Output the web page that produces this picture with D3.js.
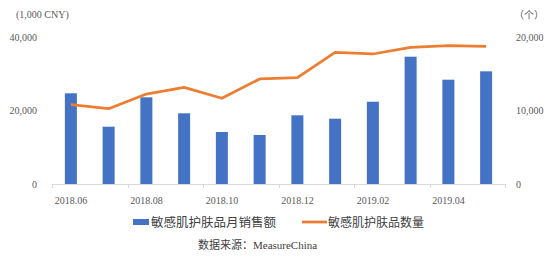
<!DOCTYPE html>
<html lang="zh">
<head>
<meta charset="UTF-8" />
<script src="https://d3js.org/d3.v7.min.js"></script>
<style>
  body { margin: 0; background: #fff; }
  svg { display: block; }
  text { font-family: "Liberation Serif", "Noto Sans CJK SC", serif; fill: #595959; }
  .cjk { font-family: "Noto Sans CJK SC", sans-serif; }
  .legend { fill: #404040; }
</style>
</head>
<body>
<svg id="chart" width="550" height="261"></svg>
<script>
const months = ["2018.06","2018.07","2018.08","2018.09","2018.10","2018.11","2018.12","2019.01","2019.02","2019.03","2019.04","2019.05"];
const sales = [24680, 15590, 23590, 19240, 14150, 13330, 18690, 17770, 22390, 34640, 28380, 30660];
const counts = [10790, 10250, 12240, 13150, 11660, 14290, 14460, 17920, 17690, 18600, 18820, 18730];
const leftTicks = [0, 20000, 40000];
const rightTicks = [0, 10000, 20000];

const svg = d3.select("#chart");
const margin = { left: 52, right: 45, top: 37, bottom: 77 };
const W = 550, H = 261;

const x = d3.scaleBand().domain(months).range([margin.left, W - margin.right]).paddingInner(0).paddingOuter(0);
const yL = d3.scaleLinear().domain([0, 40000]).range([H - margin.bottom, margin.top]);
const yR = d3.scaleLinear().domain([0, 20000]).range([H - margin.bottom, margin.top]);
const fmt = d3.format(",");

// bars
const bw = 12;
svg.append("g").selectAll("rect")
  .data(months)
  .join("rect")
  .attr("x", (d) => x(d) + x.bandwidth() / 2 - bw / 2)
  .attr("y", (d, i) => yL(sales[i]))
  .attr("width", bw)
  .attr("height", (d, i) => yL(0) - yL(sales[i]))
  .attr("fill", "#4472C4");

// x axis line + ticks every 2 months
const y0 = yL(0);
svg.append("line")
  .attr("x1", margin.left).attr("x2", W - margin.right)
  .attr("y1", y0 + 0.5).attr("y2", y0 + 0.5)
  .attr("stroke", "#d9d9d9");
const tickX = months.filter((d, i) => i % 2 === 0).map((d) => x(d)).concat([W - margin.right]);
svg.append("g").selectAll("line")
  .data(tickX)
  .join("line")
  .attr("x1", (d) => Math.round(d) + 0.5).attr("x2", (d) => Math.round(d) + 0.5)
  .attr("y1", y0).attr("y2", y0 + 4)
  .attr("stroke", "#d9d9d9");

svg.append("g").selectAll("text")
  .data(months.filter((d, i) => i % 2 === 0))
  .join("text")
  .attr("x", (d) => x(d) + x.bandwidth() / 2)
  .attr("y", y0 + 20)
  .attr("text-anchor", "middle")
  .attr("font-size", 10)
  .text((d) => d);

// line
const line = d3.line()
  .x((d, i) => x(months[i]) + x.bandwidth() / 2)
  .y((d) => yR(d));
svg.append("path")
  .datum(counts)
  .attr("d", line)
  .attr("fill", "none")
  .attr("stroke", "#ED7D31")
  .attr("stroke-width", 2.75)
  .attr("stroke-linejoin", "round");

// left axis labels
svg.append("g").selectAll("text")
  .data(leftTicks)
  .join("text")
  .attr("x", 37)
  .attr("y", (d) => yL(d) + 3.5)
  .attr("text-anchor", "end")
  .attr("font-size", 10)
  .text((d) => fmt(d));

// right axis labels
svg.append("g").selectAll("text")
  .data(rightTicks)
  .join("text")
  .attr("x", 516)
  .attr("y", (d) => yR(d) + 3.5)
  .attr("text-anchor", "start")
  .attr("font-size", 10)
  .text((d) => fmt(d));

svg.append("text").attr("x", 16).attr("y", 18).attr("font-size", 10).text("(1,000 CNY)");
svg.append("text").attr("x", 514).attr("y", 19).attr("font-size", 10).attr("class", "cjk").text("（个）");

// legend
svg.append("rect").attr("x", 133).attr("y", 219).attr("width", 16).attr("height", 6).attr("fill", "#4472C4");
svg.append("text").attr("class", "cjk legend").attr("x", 151).attr("y", 226.5).attr("font-size", 12.5).text("敏感肌护肤品月销售额");
svg.append("line").attr("x1", 302).attr("x2", 327).attr("y1", 222).attr("y2", 222).attr("stroke", "#ED7D31").attr("stroke-width", 2.75);
svg.append("text").attr("class", "cjk legend").attr("x", 328).attr("y", 226.5).attr("font-size", 12).text("敏感肌护肤品数量");

// source
svg.append("text").attr("class", "legend").attr("x", 198).attr("y", 249).attr("font-size", 11)
  .text("数据来源：MeasureChina");
</script>
</body>
</html>
